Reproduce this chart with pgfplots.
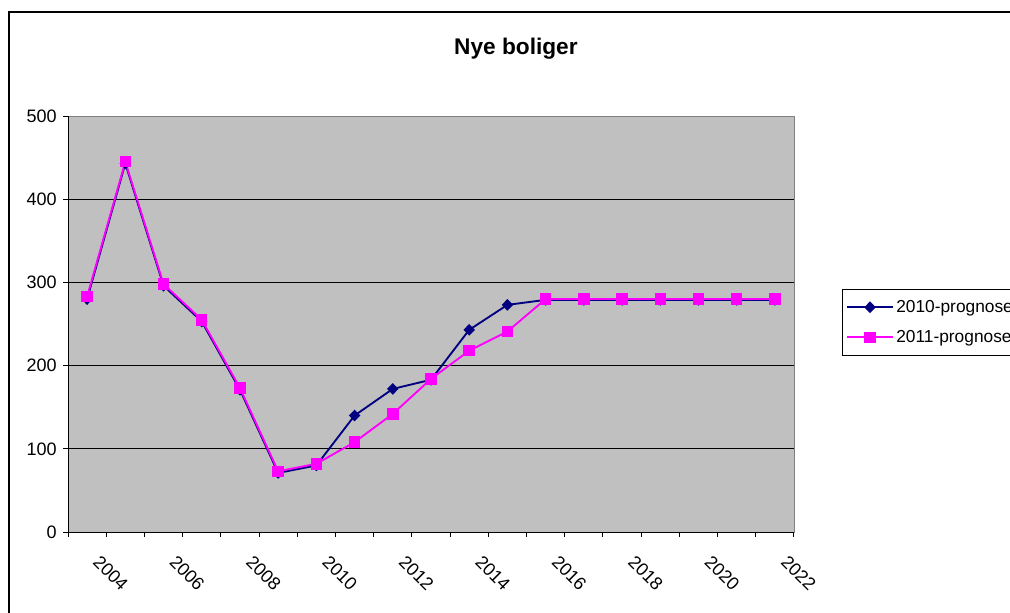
\documentclass[border=0pt]{standalone}
\usepackage{pgfplots}
\pgfplotsset{compat=1.18}
\usepackage{fontspec}
\setmainfont{Liberation Sans}
\definecolor{navy}{HTML}{000080}
\definecolor{mag}{HTML}{FF00FF}
\definecolor{plotgray}{HTML}{C0C0C0}
\definecolor{bordergray}{HTML}{808080}
\begin{document}
\begin{tikzpicture}
\useasboundingbox (0,0) rectangle (757.5pt,459pt);
\clip (0,0) rectangle (757.5pt,459pt);
\draw[line width=1.5pt] (6.75pt,-10pt) rectangle (780pt,450pt);
\begin{axis}[
  at={(51pt,60pt)}, anchor=south west,
  scale only axis, width=544.5pt, height=312pt,
  xmin=2003.5, xmax=2022.5, ymin=0, ymax=500,
  axis background/.style={fill=plotgray, draw=bordergray, line width=0.75pt},
  axis x line*=bottom, axis y line*=left,
  axis line style={black, line width=0.75pt, -},
  tick align=outside,
  tick style={black, line width=0.75pt},
  major tick length=0pt, minor tick length=3.75pt,
  xtick={2004,2006,...,2022},
  minor xtick={2003.5,2004.5,...,2022.5},
  xticklabel style={xshift=10.5pt, yshift=-12pt, rotate=-45, anchor=north west, font=\fontsize{13.5}{15}\selectfont, /pgf/number format/1000 sep=},
  ytick={0,100,...,500},
  minor ytick={0,100,...,500},
  yticklabel style={font=\fontsize{13.5}{15}\selectfont, xshift=-5pt},
  extra y ticks={100,200,300,400},
  extra y tick labels={},
  extra y tick style={grid=major, major grid style={black, line width=0.75pt}},
  /pgf/number format/assume math mode=true,
  title={Nye boliger},
  title style={at={(axis description cs:0.617,1.142)}, anchor=center, font=\bfseries\fontsize{17}{20}\selectfont},
  legend style={at={(axis description cs:1.066,0.584)}, anchor=north west, draw=black, line width=0.75pt, fill=white,
    font=\fontsize{13}{15}\selectfont, row sep=8pt, inner xsep=3pt, inner ysep=6pt},
  legend cell align=left,
  legend image code/.code={\draw[mark repeat=2, mark phase=2] plot coordinates {(0pt,0pt) (17pt,0pt) (34pt,0pt)};},
  clip=false,
]
\addplot[navy, line width=1.4pt, mark=diamond*, mark size=3.4pt, mark options={xscale=1.3, solid, fill=navy}] coordinates {
(2004,280) (2005,443) (2006,296) (2007,253) (2008,171) (2009,71) (2010,80) (2011,140) (2012,172) (2013,183) (2014,243) (2015,273) (2016,279) (2017,279) (2018,279) (2019,279) (2020,279) (2021,279) (2022,279)};
\addlegendentry{2010-prognose}
\addplot[mag, line width=1.4pt, mark=square*, mark size=3.6pt, mark options={solid, fill=mag}] coordinates {
(2004,283) (2005,445) (2006,298) (2007,255) (2008,173) (2009,73) (2010,82) (2011,108) (2012,142) (2013,184) (2014,218) (2015,241) (2016,280) (2017,280) (2018,280) (2019,280) (2020,280) (2021,280) (2022,280)};
\addlegendentry{2011-prognose}
\end{axis}
\end{tikzpicture}
\end{document}
